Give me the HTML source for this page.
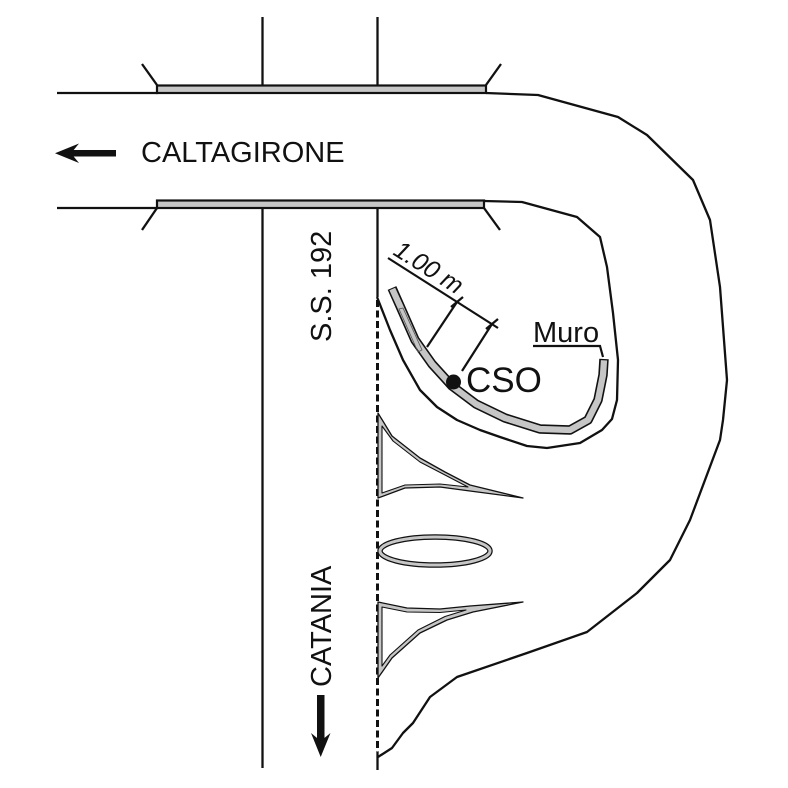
<!DOCTYPE html>
<html>
<head>
<meta charset="utf-8">
<style>
  html,body{margin:0;padding:0;background:#fff;}
  svg{display:block;}
  text{font-family:"Liberation Sans",Arial,sans-serif;fill:#111;}
</style>
</head>
<body>
<svg width="788" height="788" viewBox="0 0 788 788" xmlns="http://www.w3.org/2000/svg">
  <rect width="788" height="788" fill="#fff"/>
  <g fill="none" stroke="#111" stroke-width="2.3" stroke-linejoin="round" stroke-linecap="butt">
    <!-- vertical road lines -->
    <line x1="262.5" y1="17" x2="262.5" y2="86"/>
    <line x1="377.5" y1="17" x2="377.5" y2="86"/>
    <line x1="262.5" y1="208" x2="262.5" y2="768"/>
    <line x1="377.5" y1="208" x2="377.5" y2="297"/>
    <line x1="377.5" y1="300" x2="377.5" y2="752" stroke-dasharray="7 3.5" stroke-width="3"/>
    <line x1="377.5" y1="752" x2="377.5" y2="770"/>
    <!-- horizontal left lines -->
    <line x1="57" y1="93" x2="158" y2="93"/>
    <line x1="57" y1="208" x2="158" y2="208"/>
    <!-- ticks -->
    <line x1="157" y1="85" x2="142" y2="64"/>
    <line x1="486" y1="85" x2="501" y2="64"/>
    <line x1="157" y1="208" x2="142" y2="230"/>
    <line x1="484" y1="208" x2="500" y2="230"/>
    <!-- outer curve -->
    <path d="M486,93 L538,95 L618,117 L647,135 L693,180 L710,220 L720,287 L727,380 L723,420 L720,440 L690,520 L670,560 L637,593 L587,632 L527,653 L457,677 L430,697 L413,723 L403,733 L392,748 L378,757"/>
    <!-- inner curve -->
    <path d="M377,297 L390,330 L403,360 L420,390 L437,407 L457,420 L480,430 L500,437 L527,446 L547,448 L580,443 L602,430 L612,419 L617,400 L618,360 L613,313 L607,267 L600,237 L577,217 L522,202 L484,201"/>
  </g>
  <!-- bridge bars -->
  <rect x="157" y="85.5" width="329" height="7.5" fill="#c6c6c6" stroke="#111" stroke-width="2.2"/>
  <rect x="157" y="200.5" width="327" height="7.5" fill="#c6c6c6" stroke="#111" stroke-width="2.2"/>

  <!-- wall (Muro) -->
  <path d="M392,288 L400,306 L415,340 L432,364 L452,386 L476,404 L505,418 L540,429 L570,430 L588,420 L598,400 L603,375 L604,359" fill="none" stroke="#111" stroke-width="9.5" stroke-linejoin="round"/>
  <path d="M392.3,289 L400,306 L415,340 L432,364 L452,386 L476,404 L505,418 L540,429 L570,430 L588,420 L598,400 L603,375 L604,360.3" fill="none" stroke="#c6c6c6" stroke-width="6.3" stroke-linejoin="round"/>
  <path d="M399,309 L403,308 L422,350 L418,352 Z" fill="none" stroke="#555" stroke-width="0.8"/>

  <!-- Muro label -->
  <text x="533" y="342" font-size="29">Muro</text>
  <polyline points="533,346 600,346 603,357" fill="none" stroke="#111" stroke-width="2.2"/>

  <!-- dimension -->
  <g stroke="#111" stroke-width="2.2" fill="none">
    <line x1="388" y1="258" x2="498" y2="328"/>
    <line x1="457" y1="302" x2="427" y2="347"/>
    <line x1="492" y1="324" x2="462" y2="371"/>
    <line x1="451" y1="307" x2="463" y2="297"/>
    <line x1="486" y1="329" x2="498" y2="319"/>
  </g>
  <text x="392" y="254" font-size="25" font-style="italic" transform="rotate(32.3 392 254)">1.00 m</text>

  <!-- CSO -->
  <circle cx="453.5" cy="382" r="7.5" fill="#111"/>
  <text x="466" y="392" font-size="35">CSO</text>

  <!-- islands -->
  <path d="M378,413 L392,436 L420,458 L445,472 L470,485 L523,498 L470,491 L440,487 L405,488 L378,498 Z" fill="#c6c6c6" stroke="#111" stroke-width="1.3" stroke-linejoin="round"/>
  <path d="M382,426 L393,441 L420,462 L445,475 L468,487 L440,484 L405,485 L382,493 Z" fill="#fff" stroke="#111" stroke-width="1.1" stroke-linejoin="round"/>

  <path d="M378,602 L407,608 L440,609 L470,606 L523,602 L473,612 L447,620 L420,633 L392,658 L378,678 Z" fill="#c6c6c6" stroke="#111" stroke-width="1.3" stroke-linejoin="round"/>
  <path d="M382,607 L407,612 L440,612.5 L466,610 L445,616.5 L418,630 L390,655 L382,666 Z" fill="#fff" stroke="#111" stroke-width="1.1" stroke-linejoin="round"/>

  <ellipse cx="435" cy="551" rx="55" ry="14" fill="none" stroke="#111" stroke-width="5.5"/>
  <ellipse cx="435" cy="551" rx="55" ry="14" fill="none" stroke="#c6c6c6" stroke-width="3"/>

  <!-- left arrow + CALTAGIRONE -->
  <rect x="68" y="150" width="48" height="6.5" fill="#111"/>
  <polygon points="55,153.2 79,143.5 71,153.2 79,163" fill="#111"/>
  <text x="141" y="162" font-size="29">CALTAGIRONE</text>

  <!-- vertical labels -->
  <text x="331" y="342" font-size="29" transform="rotate(-90 331 342)">S.S. 192</text>
  <text x="331" y="687" font-size="29" transform="rotate(-90 331 687)">CATANIA</text>

  <!-- down arrow -->
  <rect x="317" y="695" width="7.5" height="46" fill="#111"/>
  <polygon points="320.7,757 311,733 320.7,741 330.5,733" fill="#111"/>
</svg>
</body>
</html>
